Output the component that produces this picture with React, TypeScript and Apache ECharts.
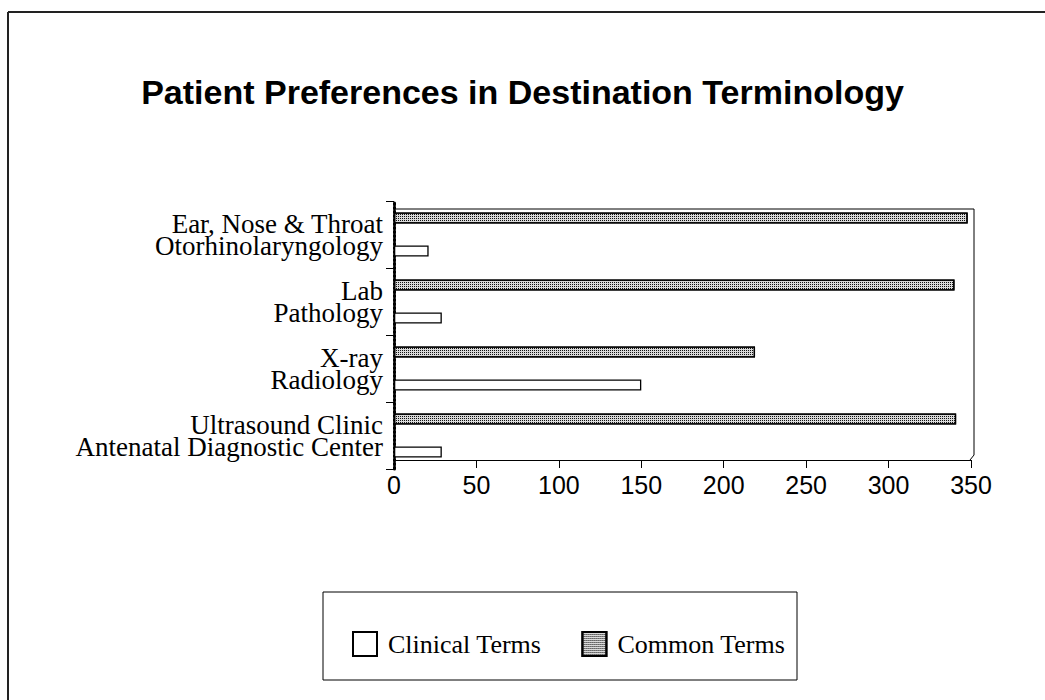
import React, { useEffect, useRef } from "react";
import * as echarts from "echarts";

const commonTerms = ["Ultrasound Clinic", "X-ray", "Lab", "Ear, Nose & Throat"];
const clinicalTerms = ["Antenatal Diagnostic Center", "Radiology", "Pathology", "Otorhinolaryngology"];
const clinicalValues = [29, 150, 29, 21];
const commonValues = [341, 219, 340, 348];
const xTicks = [0, 50, 100, 150, 200, 250, 300, 350];
const seriesNames = ["Clinical Terms", "Common Terms"];
const title = "Patient Preferences in Destination Terminology";

export default function App() {
  const ref = useRef<HTMLDivElement>(null);
  useEffect(() => {
    if (!ref.current) return;
    const chart = echarts.init(ref.current, null, { renderer: "svg" });
    const categories = commonTerms.map((c, i) => c + "\n" + clinicalTerms[i]);
    const decal = {
      symbol: "rect",
      symbolSize: 1,
      dashArrayX: [1, 1],
      dashArrayY: [1, 1],
      color: "#111",
      rotation: 0,
    };
    chart.setOption({
      animation: false,
      backgroundColor: "#fff",
      title: {
        text: title,
        left: "center",
        top: 70,
        textStyle: {
          fontFamily: "Liberation Sans, Arial, sans-serif",
          fontWeight: "bold",
          fontSize: 34,
          color: "#000",
        },
      },
      legend: {
        data: seriesNames,
        left: 347,
        top: 626,
        icon: "rect",
        itemWidth: 24,
        itemHeight: 24,
        itemGap: 40,
        textStyle: {
          fontFamily: "Liberation Serif, Times New Roman, serif",
          fontSize: 26,
          color: "#000",
          padding: [0, 0, 0, 6],
        },
      },
      grid: { left: 394, right: 74, top: 201, height: 268, containLabel: false },
      xAxis: {
        type: "value",
        min: xTicks[0],
        max: xTicks[xTicks.length - 1],
        interval: xTicks[1] - xTicks[0],
        offset: -9,
        splitLine: { show: false },
        axisLine: { show: true, lineStyle: { color: "#000", width: 1 } },
        axisTick: { show: true, length: 8, lineStyle: { color: "#000" } },
        axisLabel: {
          margin: 12,
          fontFamily: "Liberation Sans, Arial, sans-serif",
          fontSize: 25,
          color: "#000",
        },
      },
      yAxis: {
        type: "category",
        data: categories,
        axisLine: { show: true, lineStyle: { color: "#000", width: 3, type: [2, 2] } },
        axisTick: { show: true, length: 8, lineStyle: { color: "#000" } },
        axisLabel: {
          margin: 11,
          fontFamily: "Liberation Serif, Times New Roman, serif",
          fontSize: 27,
          lineHeight: 22,
          color: "#000",
          align: "right",
        },
      },
      graphic: [
        { type: "line", shape: { x1: 8, y1: 12, x2: 1045, y2: 12 }, style: { stroke: "#222", lineWidth: 2 } },
        { type: "line", shape: { x1: 8, y1: 12, x2: 8, y2: 700 }, style: { stroke: "#222", lineWidth: 2 } },
        {
          type: "polyline",
          shape: { points: [[396, 209], [974, 209], [974, 455], [970, 460]] },
          style: { stroke: "#000", lineWidth: 1, fill: null },
        },
        {
          type: "rect",
          shape: { x: 323, y: 592, width: 474, height: 88 },
          style: { stroke: "#000", lineWidth: 1, fill: null },
        },
      ],
      series: [
        {
          name: seriesNames[1],
          type: "bar",
          data: commonValues,
          barWidth: 11,
          barGap: "200%",
          itemStyle: { color: "#d9d9d9", borderColor: "#000", borderWidth: 1.3, decal },
        },
        {
          name: seriesNames[0],
          type: "bar",
          data: clinicalValues,
          barWidth: 11,
          barGap: "200%",
          itemStyle: { color: "#fff", borderColor: "#000", borderWidth: 1.3 },
        },
      ],
    });
    return () => chart.dispose();
  }, []);
  return (
    <div
      ref={ref}
      style={{ position: "fixed", left: 0, top: 0, width: 1045, height: 700 }}
    />
  );
}
